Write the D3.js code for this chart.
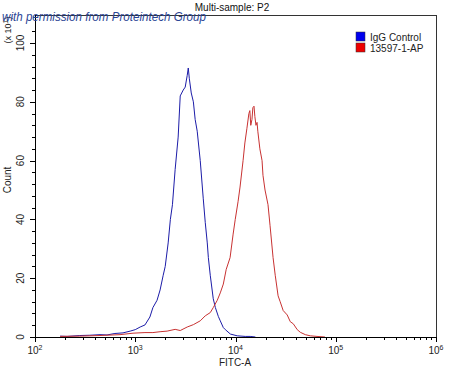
<!DOCTYPE html>
<html>
<head>
<meta charset="utf-8">
<script src="https://cdn.jsdelivr.net/npm/d3@7"></script>
<style>
  body { margin: 0; background: #fff; }
  svg text { font-family: "Liberation Sans", Arial, sans-serif; }
</style>
</head>
<body>
<div id="chart"></div>
<script>
'use strict';
// FITC-A value, count (in units of 10^1)
const iggFitc = [178, 209, 280, 352, 445, 523, 627, 755, 890, 1000, 1120, 1250, 1400, 1500, 1650, 1770, 1900, 1990, 2130, 2240, 2350, 2500, 2680, 2810, 3010, 3150, 3300, 3380, 3460, 3620, 3800, 3960, 4150, 4450, 4770, 4990, 5230, 5360, 5600, 6000, 6300, 6740, 7050, 7560, 7920, 8890, 10400, 12500, 14000, 15800];
const iggCount = [0.3, 0.2, 0.5, 0.6, 0.8, 0.7, 1.2, 1.4, 2.0, 2.5, 3.4, 4.1, 6.8, 10, 12.5, 16, 21, 24, 32, 40, 45, 57, 68, 82, 84, 85, 89, 91.5, 88, 83, 80, 74, 70, 60, 47, 39, 32, 27, 21, 13, 10, 7, 5.5, 3.2, 2.5, 1.0, 0.4, 0.2, 0.2, 0];
const apFitc = [178, 280, 445, 705, 950, 1250, 1500, 1770, 2080, 2500, 2810, 3300, 3800, 4450, 4990, 5600, 6000, 6580, 7050, 7560, 8080, 8830, 9470, 9940, 10600, 11100, 11900, 12400, 13000, 13600, 13900, 14200, 14600, 14900, 15300, 15600, 16000, 16400, 16700, 17500, 18400, 18800, 19700, 21100, 22100, 23700, 24900, 26600, 27900, 29900, 32800, 35200, 37700, 41300, 44300, 49700, 55700, 65000, 78000];
const apCount = [0.2, 0.3, 0.5, 0.8, 1.3, 1.5, 1.5, 1.8, 2.0, 2.6, 2.2, 3.4, 4.2, 5.5, 7.2, 8.3, 10, 12.5, 15, 18, 23, 27, 35, 40, 46, 51, 60, 66, 71, 76, 77, 72, 74, 78, 78.5, 75, 72, 73, 70, 64, 60, 55, 50, 45, 38, 27, 21, 14, 12, 9, 7.5, 5.2, 4.5, 2.5, 1.6, 0.8, 0.4, 0.2, 0];

const seriesNames = ["IgG Control", "13597-1-AP"];
const seriesColors = ["#1c1ca8", "#c83232"];
const xDecades = [2, 3, 4, 5, 6];
const yLabels = [0, 20, 40, 60, 80, 100];

let width = 450, height = 370;
let margin = { left: 35, right: 14, top: 15, bottom: 33 };

let svg = d3.select("#chart").append("svg")
  .attr("width", width)
  .attr("height", height);

let x = d3.scaleLog()
  .domain([1e2, 1e6])
  .range([margin.left, width - margin.right]);
let y = d3.scaleLinear()
  .domain([0, 100])
  .range([height - margin.bottom, 43]);

// frame
svg.append("rect")
  .attr("x", margin.left)
  .attr("y", margin.top)
  .attr("width", width - margin.right - margin.left)
  .attr("height", height - margin.bottom - margin.top)
  .attr("fill", "none")
  .attr("stroke", "#333")
  .attr("stroke-width", 1)
  .attr("shape-rendering", "crispEdges");

// curves
let line = d3.line()
  .x(function (d) { return x(d[0]); })
  .y(function (d) { return y(d[1]); });

function addCurve(fitc, count, color) {
  let pts = fitc.map(function (v, i) { return [v, count[i]]; });
  svg.append("path")
    .datum(pts)
    .attr("d", line)
    .attr("fill", "none")
    .attr("stroke", color)
    .attr("stroke-width", 1);
}
addCurve(iggFitc, iggCount, seriesColors[0]);
addCurve(apFitc, apCount, seriesColors[1]);

// x axis: decade ticks and minor ticks
let xTicks = [];
for (let i = 0; i < xDecades.length; ++i) {
  let base = Math.pow(10, xDecades[i]);
  xTicks.push({ v: base, major: true });
  if (i < xDecades.length - 1)
    for (let k = 2; k < 10; ++k) xTicks.push({ v: base * k, major: false });
}
let xAxis = svg.append("g")
  .attr("transform", "translate(0," + (height - margin.bottom) + ")");
xAxis.append("line")
  .attr("x1", margin.left).attr("x2", width - margin.right)
  .attr("stroke", "#000")
  .attr("shape-rendering", "crispEdges");
xAxis.selectAll(".xt")
  .data(xTicks)
  .enter().append("line")
  .attr("x1", function (d) { return Math.round(x(d.v)) + 0.5; })
  .attr("x2", function (d) { return Math.round(x(d.v)) + 0.5; })
  .attr("y1", 0)
  .attr("y2", function (d) { return d.major ? 5 : 3; })
  .attr("stroke", "#000");
let xLab = xAxis.selectAll(".xl")
  .data(xDecades)
  .enter().append("text")
  .attr("x", function (d) { return x(Math.pow(10, d)); })
  .attr("y", 17)
  .attr("text-anchor", "middle")
  .attr("font-size", 10)
  .attr("fill", "#222");
xLab.append("tspan").text("10");
xLab.append("tspan")
  .attr("dy", -4)
  .attr("font-size", 7)
  .text(function (d) { return d; });
svg.append("text")
  .attr("x", 235)
  .attr("y", 366)
  .attr("text-anchor", "middle")
  .attr("font-size", 10)
  .attr("fill", "#222")
  .text("FITC-A");

// y axis
let yAxis = svg.append("g")
  .attr("transform", "translate(" + margin.left + ",0)");
yAxis.append("line")
  .attr("y1", margin.top).attr("y2", height - margin.bottom)
  .attr("stroke", "#000")
  .attr("shape-rendering", "crispEdges");
let yTicks = d3.range(0, 105, 4);
yAxis.selectAll(".yt")
  .data(yTicks)
  .enter().append("line")
  .attr("x1", function (d) { return d % 20 === 0 ? -5 : -3; })
  .attr("x2", 0)
  .attr("y1", function (d) { return Math.round(y(d)) + 0.5; })
  .attr("y2", function (d) { return Math.round(y(d)) + 0.5; })
  .attr("stroke", "#000");
yAxis.selectAll(".yl")
  .data(yLabels)
  .enter().append("text")
  .attr("transform", function (d) { return "translate(-11," + y(d) + ") rotate(-90)"; })
  .attr("text-anchor", "middle")
  .attr("font-size", 10)
  .attr("fill", "#222")
  .text(function (d) { return d; });
svg.append("text")
  .attr("transform", "translate(11,180) rotate(-90)")
  .attr("text-anchor", "middle")
  .attr("font-size", 10)
  .attr("fill", "#222")
  .text("Count");
let mult = svg.append("text")
  .attr("transform", "translate(11,30) rotate(-90)")
  .attr("text-anchor", "middle")
  .attr("font-size", 9)
  .attr("fill", "#222");
mult.append("tspan").text("(x 10");
mult.append("tspan").attr("dy", -3).attr("font-size", 7).text("1");
mult.append("tspan").attr("dy", 3).text(")");

// title
svg.append("text")
  .attr("x", 232)
  .attr("y", 11)
  .attr("text-anchor", "middle")
  .attr("font-size", 10)
  .attr("fill", "#111")
  .text("Multi-sample: P2");

// legend
let legend = svg.append("g").attr("transform", "translate(356,32)");
seriesNames.forEach(function (name, i) {
  legend.append("rect")
    .attr("x", 0).attr("y", i * 11)
    .attr("width", 9).attr("height", 9)
    .attr("fill", i === 0 ? "#0000ee" : "#ee0000")
    .attr("stroke", "#333")
    .attr("stroke-width", 0.5);
  legend.append("text")
    .attr("x", 14).attr("y", i * 11 + 9)
    .attr("font-size", 10)
    .attr("fill", "#222")
    .text(name);
});

// watermark
svg.append("text")
  .attr("x", 2)
  .attr("y", 21)
  .attr("font-family", "'Liberation Serif', serif")
  .attr("font-style", "italic")
  .attr("font-size", 12)
  .attr("textLength", 204)
  .attr("lengthAdjust", "spacingAndGlyphs")
  .attr("fill", "#2a4595")
  .text("with permission from Proteintech Group");
</script>
</body>
</html>
